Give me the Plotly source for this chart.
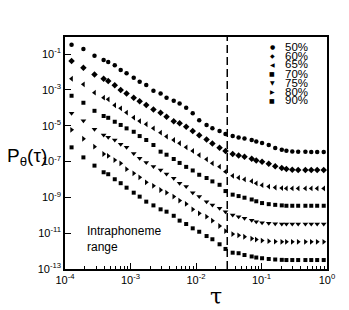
import plotly.graph_objects as go

# ---- data ----
tau = [1.26e-4, 1.91e-4, 2.82e-4, 3.89e-4, 4.57e-4, 5.75e-4, 7.08e-4, 8.71e-4,
       1.12e-3, 1.38e-3, 1.74e-3, 2.24e-3, 2.88e-3, 3.55e-3, 4.57e-3, 5.62e-3,
       7.08e-3, 8.91e-3, 1.12e-2, 1.45e-2, 1.78e-2, 2.29e-2, 2.82e-2, 3.63e-2,
       4.47e-2, 5.50e-2, 7.08e-2, 8.32e-2, 0.102, 0.129, 0.162, 0.204, 0.240,
       0.295, 0.363, 0.468, 0.575, 0.708, 0.891]

# log10 of P_theta(tau) per threshold
logp_50 = [-0.48, -0.72, -1.10, -1.34, -1.45, -1.63, -1.89, -2.08, -2.32, -2.55,
           -2.73, -3.05, -3.20, -3.44, -3.61, -3.76, -4.00, -4.31, -4.69, -4.96,
           -5.15, -5.30, -5.47, -5.58, -5.66, -5.72, -5.80, -5.89, -5.97, -6.08,
           -6.24, -6.34, -6.40, -6.44, -6.46, -6.46, -6.47, -6.47, -6.47]
logp_60 = [-1.39, -1.77, -2.14, -2.38, -2.51, -2.75, -3.01, -3.20, -3.44, -3.63,
           -3.85, -4.09, -4.28, -4.50, -4.75, -4.87, -5.06, -5.30, -5.53, -5.77,
           -5.99, -6.23, -6.42, -6.58, -6.66, -6.74, -6.85, -6.95, -7.02, -7.13,
           -7.27, -7.36, -7.42, -7.46, -7.48, -7.48, -7.48, -7.48, -7.48]
logp_65 = [-2.38, -2.69, -3.16, -3.44, -3.53, -3.86, -4.03, -4.27, -4.55, -4.74,
           -4.92, -5.15, -5.39, -5.61, -5.80, -5.98, -6.21, -6.41, -6.64, -6.88,
           -7.10, -7.29, -7.57, -7.80, -7.90, -8.00, -8.10, -8.22, -8.32, -8.40,
           -8.45, -8.48, -8.50, -8.50, -8.50, -8.50, -8.50, -8.50, -8.50]
logp_70 = [-3.33, -3.72, -4.17, -4.46, -4.56, -4.78, -4.96, -5.15, -5.34, -5.58,
           -5.80, -6.08, -6.45, -6.62, -6.86, -7.08, -7.30, -7.50, -7.74, -7.92,
           -8.11, -8.30, -8.65, -8.85, -8.93, -9.02, -9.12, -9.22, -9.32, -9.38,
           -9.42, -9.45, -9.47, -9.47, -9.47, -9.47, -9.47, -9.47, -9.47]
logp_75 = [-4.31, -4.72, -5.20, -5.52, -5.64, -5.80, -6.04, -6.20, -6.55, -6.82,
           -7.05, -7.28, -7.47, -7.70, -7.94, -8.21, -8.40, -8.74, -8.96, -9.24,
           -9.43, -9.61, -9.80, -9.98, -10.08, -10.17, -10.28, -10.36, -10.42, -10.45,
           -10.48, -10.49, -10.49, -10.49, -10.49, -10.49, -10.49, -10.49, -10.49]
logp_80 = [-5.23, -5.73, -6.17, -6.58, -6.69, -6.92, -7.10, -7.43, -7.66, -7.88,
           -8.16, -8.36, -8.59, -8.74, -8.96, -9.18, -9.37, -9.67, -9.89, -10.08,
           -10.30, -10.60, -10.88, -11.05, -11.12, -11.20, -11.30, -11.36, -11.41, -11.45,
           -11.47, -11.48, -11.48, -11.48, -11.48, -11.48, -11.48, -11.48, -11.48]
logp_90 = [-6.21, -6.77, -7.23, -7.60, -7.71, -7.99, -8.21, -8.46, -8.74, -8.96,
           -9.24, -9.45, -9.67, -9.80, -10.03, -10.30, -10.49, -10.73, -10.92, -11.16,
           -11.34, -11.62, -11.88, -12.09, -12.12, -12.22, -12.30, -12.36, -12.40, -12.44,
           -12.47, -12.49, -12.50, -12.50, -12.50, -12.50, -12.50, -12.50, -12.50]

series_names = ["50%", "60%", "65%", "70%", "75%", "80%", "90%"]
series_logp = [logp_50, logp_60, logp_65, logp_70, logp_75, logp_80, logp_90]
series_symbols = ["circle", "diamond", "triangle-left", "square",
                  "triangle-down", "triangle-right", "square"]
legend_glyphs = ["\u25CF", "\u25C6", "\u25C0", "\u25A0", "\u25BC", "\u25B6", "\u25A0"]
series_sizes = [4.5, 5, 5, 4, 5, 5, 4]

boundary_tau = 0.03

x_tickvals = [1e-4, 1e-3, 1e-2, 1e-1, 1e0]
x_ticktext = ["10<sup>-4</sup>", "10<sup>-3</sup>", "10<sup>-2</sup>",
              "10<sup>-1</sup>", "10<sup>0</sup>"]
x_minor = [m * 10.0 ** e for e in range(-4, 0) for m in range(2, 10)]
y_tickvals = [1e-13, 1e-11, 1e-9, 1e-7, 1e-5, 1e-3, 1e-1]
y_ticktext = ["10<sup>-13</sup>", "10<sup>-11</sup>", "10<sup>-9</sup>",
              "10<sup>-7</sup>", "10<sup>-5</sup>", "10<sup>-3</sup>", "10<sup>-1</sup>"]

# ---- layout geometry (page has an 8px body margin) ----
OFF = 8
W, H = 341, 302
L, R, T, B = 57, 22, 29, 41
PW, PH = W - L - R, H - T - B


def px(xp):
    return (xp - OFF - L) / PW


def py(yp):
    return (H - B - (yp - OFF)) / PH


FONT = "Liberation Sans, Arial, sans-serif"

fig = go.Figure()
for name, lp, sym, sz in zip(series_names, series_logp, series_symbols, series_sizes):
    fig.add_trace(go.Scatter(
        x=tau, y=[10 ** v for v in lp], mode="markers", name=name,
        marker=dict(symbol=sym, size=sz, color="black", line=dict(width=0)),
        showlegend=False))

fig.add_shape(type="line", xref="x", yref="paper", x0=boundary_tau, x1=boundary_tau,
              y0=0, y1=1, line=dict(color="black", width=1.5, dash="8px,4px"))

# legend (compact, like reference)
for i, (g, name) in enumerate(zip(legend_glyphs, series_names)):
    yy = 46.5 + 9.0 * i
    fig.add_annotation(xref="paper", yref="paper", x=px(272), y=py(yy), text=g,
                       showarrow=False, xanchor="center", yanchor="middle",
                       font=dict(family="DejaVu Sans", size=6, color="black"))
    fig.add_annotation(xref="paper", yref="paper", x=px(283), y=py(yy), text=name,
                       showarrow=False, xanchor="left", yanchor="middle",
                       font=dict(family=FONT, size=11.5, color="black"))

fig.add_annotation(xref="paper", yref="paper", x=px(85), y=py(239),
                   text="Intraphoneme<br>range", showarrow=False, align="left",
                   xanchor="left", yanchor="middle",
                   font=dict(family=FONT, size=12, color="black"))

fig.add_annotation(xref="paper", yref="paper", x=px(5), y=py(157),
                   text="P<sub>\u03b8</sub>(\u03c4)", showarrow=False,
                   xanchor="left", yanchor="middle",
                   font=dict(family=FONT, size=19, color="black"))
fig.add_annotation(xref="paper", yref="paper", x=px(216), y=py(296),
                   text="\u03c4", showarrow=False, xanchor="center", yanchor="middle",
                   font=dict(family="DejaVu Serif", size=22, color="black"))

fig.update_layout(
    width=W, height=H, margin=dict(l=L, r=R, t=T, b=B),
    paper_bgcolor="white", plot_bgcolor="white",
    font=dict(family=FONT, size=11, color="black"),
    showlegend=False,
)
fig.update_xaxes(type="log", range=[-4, 0], showgrid=False, zeroline=False,
                 showline=True, linecolor="black", linewidth=1.5, mirror=True,
                 tickvals=x_tickvals, ticktext=x_ticktext, ticks="inside",
                 ticklen=6, tickwidth=1, tickcolor="black",
                 minor=dict(tickvals=x_minor, ticks="inside", ticklen=3,
                            tickwidth=1, tickcolor="black", showgrid=False),
                 tickfont=dict(family=FONT, size=11, color="black"))
fig.update_yaxes(type="log", range=[-13, -0.05], showgrid=False, zeroline=False,
                 showline=True, linecolor="black", linewidth=1.5, mirror=True,
                 tickvals=y_tickvals, ticktext=y_ticktext, ticks="inside",
                 ticklen=6, tickwidth=1, tickcolor="black",
                 tickfont=dict(family=FONT, size=11, color="black"))

fig.write_html("out.html")
